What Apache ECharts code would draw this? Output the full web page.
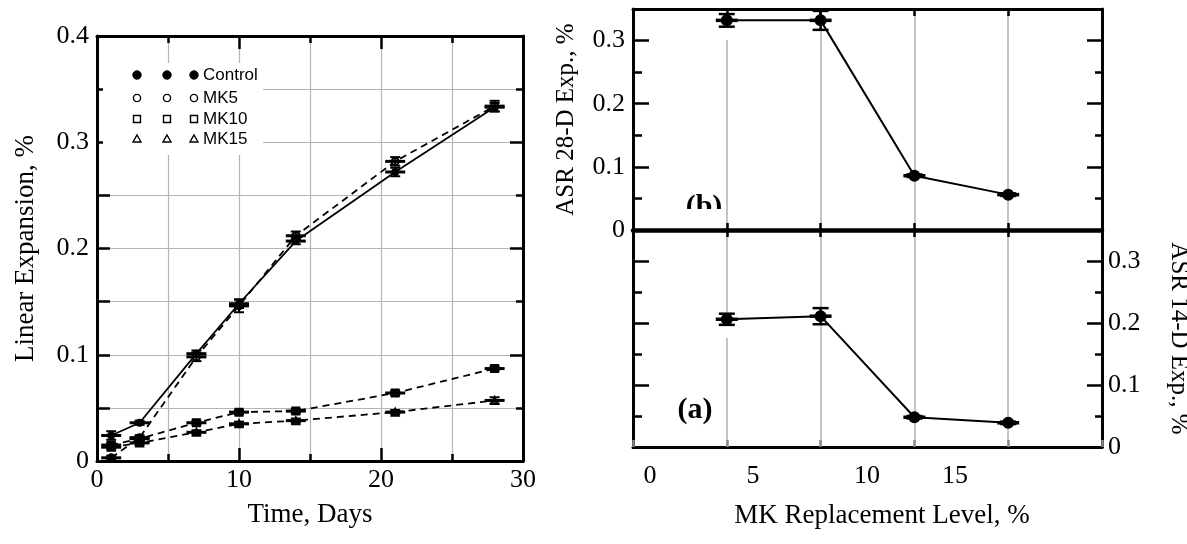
<!DOCTYPE html>
<html>
<head>
<meta charset="utf-8">
<script src="https://cdn.jsdelivr.net/npm/echarts@6/dist/echarts.min.js"></script>
<style>
  html, body { margin: 0; padding: 0; background: #fff; }
  #chart { width: 1187px; height: 544px; }
</style>
</head>
<body>
<div id="chart"></div>
<script>
// Linear expansion of mortar bars vs. time
const days = [1, 3, 7, 10, 14, 21, 28];
const controlExp = [0.024, 0.036, 0.101, 0.148, 0.207, 0.272, 0.333];
const controlErr = [0.004, 0.002, 0.003, 0.004, 0.003, 0.004, 0.004];
const mk5Exp = [0.003, 0.022, 0.098, 0.146, 0.212, 0.282, 0.334];
const mk5Err = [0.002, 0.002, 0.004, 0.006, 0.004, 0.004, 0.005];
const mk10Exp = [0.015, 0.021, 0.036, 0.046, 0.047, 0.064, 0.087];
const mk10Err = [0.002, 0.002, 0.002, 0.002, 0.002, 0.002, 0.002];
const mk15Exp = [0.013, 0.017, 0.027, 0.035, 0.038, 0.046, 0.057];
const mk15Err = [0.002, 0.002, 0.002, 0.002, 0.002, 0.002, 0.003];

// ASR expansion vs. metakaolin replacement level
const mkLevels = [0, 5, 10, 15];
const asr28 = [0.332, 0.332, 0.086, 0.056];
const asr28Err = [0.010, 0.015, 0.002, 0.002];
const asr14 = [0.206, 0.211, 0.048, 0.039];
const asr14Err = [0.009, 0.013, 0.002, 0.002];

// Tick labels and major tick positions
const timeTicks = [0, 10, 20, 30];
const expTicks = [0, 0.1, 0.2, 0.3, 0.4];
const asrTicks = [0, 0.1, 0.2, 0.3];
const asrMajor = [0.1, 0.2, 0.3];
const mkTickLabels = ['0', '5', '10', '15'];

const SERIF = 'Liberation Serif';
const GRAY = '#b5b5b5';

const zip = (xs, ys, es) => xs.map((x, i) => [x, ys[i], es[i]]);

function errorBarRenderer(capHalf, whiskerHalf, width) {
  return function (params, api) {
    const x = api.value(0), y = api.value(1), e = api.value(2);
    const lo = api.coord([x, y - e]);
    const hi = api.coord([x, y + e]);
    const c = api.coord([x, y]);
    const st = { stroke: '#000', lineWidth: width };
    return {
      type: 'group',
      children: [
        { type: 'line', shape: { x1: lo[0], y1: lo[1], x2: hi[0], y2: hi[1] }, style: st },
        { type: 'line', shape: { x1: lo[0] - capHalf, y1: lo[1], x2: lo[0] + capHalf, y2: lo[1] }, style: st },
        { type: 'line', shape: { x1: hi[0] - capHalf, y1: hi[1], x2: hi[0] + capHalf, y2: hi[1] }, style: st },
        { type: 'line', shape: { x1: c[0] - whiskerHalf, y1: c[1], x2: c[0] + whiskerHalf, y2: c[1] }, style: { stroke: '#000', lineWidth: width + 1 } }
      ]
    };
  };
}

const hidden = { show: false };
const axisLineStyle = (w) => ({ show: true, onZero: false, lineStyle: { color: '#000', width: w } });
const ticks = (len, customValues, color) => ({
  show: true, inside: true, length: len, customValues,
  lineStyle: { color: color || '#000', width: 2.5 }
});

// Each framed side gets two overlaid axes: one for the short (minor) ticks
// and one for the long (major) ticks, labels and the frame line.
function axisPair(kind, gridIndex, position, min, max, step, minorLen, majorLen, majorValues, extra, grid) {
  const common = { type: 'value', gridIndex, position, min, max, interval: step };
  const minor = Object.assign({}, common, {
    axisLine: { show: false, onZero: false }, axisLabel: hidden,
    splitLine: grid ? { show: true, lineStyle: { color: GRAY, width: 1.2 } } : hidden,
    axisTick: ticks(minorLen)
  });
  const major = Object.assign({}, common, {
    axisLine: axisLineStyle(3), splitLine: hidden, axisLabel: hidden,
    axisTick: ticks(majorLen, majorValues)
  }, extra || {});
  return [minor, major];
}

const chart = echarts.init(document.getElementById('chart'), null, { renderer: 'canvas' });

const labelFont = { color: '#000', fontFamily: SERIF, fontSize: 26 };
const mkLabelSpots = [-4.09, 1.4, 7.47, 12.16];

const option = {
  animation: false,
  backgroundColor: '#fff',
  grid: [
    { left: 97, top: 36, width: 426, height: 425, outerBoundsMode: 'none', containLabel: false },
    { left: 633, top: 9, width: 469, height: 221, outerBoundsMode: 'none', containLabel: false },
    { left: 633, top: 230, width: 469, height: 217, outerBoundsMode: 'none', containLabel: false }
  ],
  xAxis: [
    // 0,1: time, bottom (grid lines every 5 days)
    ...axisPair('x', 0, 'bottom', 0, 30, 5, 7, 13, [10, 20], {
      axisLabel: Object.assign({ customValues: timeTicks, margin: 6 }, labelFont),
      name: 'Time, Days', nameLocation: 'middle', nameGap: 40,
      nameTextStyle: { color: '#000', fontFamily: SERIF, fontSize: 27 }
    }, true),
    // 2,3: time, top border
    ...axisPair('x', 0, 'top', 0, 30, 5, 7, 13, [10, 20]),
    { // 4: MK level, zero line of the 28-day panel
      type: 'value', gridIndex: 1, position: 'bottom', min: -5, max: 20, interval: 5,
      axisLine: axisLineStyle(4.5), axisLabel: hidden,
      axisTick: ticks(7),
      splitLine: { show: true, lineStyle: { color: GRAY, width: 1.6 } }
    },
    { // 5: MK level, top border of the 28-day panel
      type: 'value', gridIndex: 1, position: 'top', min: -5, max: 20, interval: 5,
      axisLine: axisLineStyle(3), axisLabel: hidden, splitLine: hidden,
      axisTick: ticks(7)
    },
    { // 6: MK level, zero line of the 14-day panel
      type: 'value', gridIndex: 2, position: 'top', min: -5, max: 20, interval: 5,
      axisLine: axisLineStyle(3), axisLabel: hidden, splitLine: hidden,
      axisTick: ticks(7)
    },
    { // 7: MK level, bottom of the 14-day panel
      type: 'value', gridIndex: 2, position: 'bottom', min: -5, max: 20, interval: 5,
      axisLine: axisLineStyle(3), axisLabel: hidden,
      axisTick: ticks(7, null, '#8a8a8a'),
      splitLine: { show: true, lineStyle: { color: GRAY, width: 1.6 } }
    },
    { // 8: MK level tick labels
      type: 'value', gridIndex: 2, position: 'bottom', min: -5, max: 20,
      axisLine: { show: false, onZero: false }, axisTick: hidden, splitLine: hidden,
      axisLabel: Object.assign({
        customValues: mkLabelSpots,
        formatter: (v) => mkTickLabels[mkLabelSpots.indexOf(v)] || '',
        margin: 16
      }, labelFont)
    }
  ],
  yAxis: [
    // 0,1: linear expansion, left
    ...axisPair('y', 0, 'left', 0, 0.4, 0.05, 13, 13, [0.1, 0.2, 0.3], {
      axisLabel: Object.assign({ customValues: expTicks, margin: 8 }, labelFont),
      name: 'Linear Expansion, %', nameLocation: 'middle', nameGap: 58,
      nameTextStyle: { color: '#000', fontFamily: SERIF, fontSize: 27 }
    }, true),
    // 2,3: linear expansion, right border
    ...axisPair('y', 0, 'right', 0, 0.4, 0.05, 7, 13, [0.1, 0.2, 0.3]),
    // 4,5: 28-day panel, left
    ...axisPair('y', 1, 'left', 0, 0.35, 0.05, 9, 16, asrMajor, {
      axisLabel: Object.assign({ customValues: asrTicks, margin: 8 }, labelFont),
      name: 'ASR 28-D Exp., %', nameLocation: 'middle', nameGap: 54,
      nameTextStyle: { color: '#000', fontFamily: SERIF, fontSize: 25 }
    }),
    // 6,7: 28-day panel, right border
    ...axisPair('y', 1, 'right', 0, 0.35, 0.05, 7, 15, asrMajor),
    // 8,9: 14-day panel, left border
    ...axisPair('y', 2, 'left', 0, 0.35, 0.05, 9, 16, asrMajor),
    // 10,11: 14-day panel, right
    ...axisPair('y', 2, 'right', 0, 0.35, 0.05, 7, 15, asrMajor, {
      axisLabel: Object.assign({ customValues: asrTicks, margin: 6 }, labelFont),
      name: 'ASR 14-D Exp., %', nameLocation: 'middle', nameGap: 64, nameRotate: -90,
      nameTextStyle: { color: '#000', fontFamily: SERIF, fontSize: 25 }
    })
  ],
  series: [
    {
      name: 'Control', type: 'line', xAxisIndex: 0, yAxisIndex: 0,
      data: zip(days, controlExp, controlErr),
      symbol: 'circle', symbolSize: 8,
      itemStyle: { color: '#000' },
      lineStyle: { color: '#000', width: 1.8, type: 'solid' }, z: 3
    },
    {
      name: 'MK5', type: 'line', xAxisIndex: 0, yAxisIndex: 0,
      data: zip(days, mk5Exp, mk5Err),
      symbol: 'circle', symbolSize: 7,
      itemStyle: { color: '#fff', borderColor: '#000', borderWidth: 2 },
      lineStyle: { color: '#000', width: 1.8, type: [7, 5] }, z: 3
    },
    {
      name: 'MK10', type: 'line', xAxisIndex: 0, yAxisIndex: 0,
      data: zip(days, mk10Exp, mk10Err),
      symbol: 'rect', symbolSize: 7,
      itemStyle: { color: '#fff', borderColor: '#000', borderWidth: 2 },
      lineStyle: { color: '#000', width: 1.8, type: [7, 5] }, z: 3
    },
    {
      name: 'MK15', type: 'line', xAxisIndex: 0, yAxisIndex: 0,
      data: zip(days, mk15Exp, mk15Err),
      symbol: 'triangle', symbolSize: 7,
      itemStyle: { color: '#fff', borderColor: '#000', borderWidth: 2 },
      lineStyle: { color: '#000', width: 1.8, type: [7, 5] }, z: 3
    },
    ...[
      [controlExp, controlErr], [mk5Exp, mk5Err], [mk10Exp, mk10Err], [mk15Exp, mk15Err]
    ].map(([v, e]) => ({
      type: 'custom', xAxisIndex: 0, yAxisIndex: 0, z: 4,
      renderItem: errorBarRenderer(5, 10, 2),
      encode: { x: 0, y: 1 },
      data: zip(days, v, e)
    })),
    {
      name: 'ASR 28-D', type: 'line', xAxisIndex: 4, yAxisIndex: 5,
      data: zip(mkLevels, asr28, asr28Err),
      symbol: 'circle', symbolSize: 12,
      itemStyle: { color: '#000' },
      lineStyle: { color: '#000', width: 2 }, z: 3
    },
    {
      type: 'custom', xAxisIndex: 4, yAxisIndex: 5, z: 4,
      renderItem: errorBarRenderer(8, 11, 2.5),
      encode: { x: 0, y: 1 },
      data: zip(mkLevels, asr28, asr28Err)
    },
    {
      name: 'ASR 14-D', type: 'line', xAxisIndex: 7, yAxisIndex: 9,
      data: zip(mkLevels, asr14, asr14Err),
      symbol: 'circle', symbolSize: 12,
      itemStyle: { color: '#000' },
      lineStyle: { color: '#000', width: 2 }, z: 3
    },
    {
      type: 'custom', xAxisIndex: 7, yAxisIndex: 9, z: 4,
      renderItem: errorBarRenderer(8, 11, 2.5),
      encode: { x: 0, y: 1 },
      data: zip(mkLevels, asr14, asr14Err)
    }
  ],
  graphic: [
    // key box for the time panel
    { type: 'rect', z: 10, shape: { x: 103, y: 63, width: 160, height: 92 }, style: { fill: '#fff' } },
    ...[137, 167, 194].flatMap((cx) => [
      { type: 'circle', z: 11, shape: { cx, cy: 75, r: 4.2 }, style: { fill: '#000', stroke: '#000', lineWidth: 1 } },
      { type: 'circle', z: 11, shape: { cx, cy: 98, r: 3.6 }, style: { fill: '#fff', stroke: '#000', lineWidth: 1.4 } },
      { type: 'rect', z: 11, shape: { x: cx - 3.5, y: 115.5, width: 7, height: 7 }, style: { fill: '#fff', stroke: '#000', lineWidth: 1.4 } },
      { type: 'polygon', z: 11, shape: { points: [[cx, 135], [cx + 4, 142], [cx - 4, 142]] }, style: { fill: '#fff', stroke: '#000', lineWidth: 1.4 } }
    ]),
    ...['Control', 'MK5', 'MK10', 'MK15'].map((t, i) => ({
      type: 'text', z: 11, x: 203, y: [75, 98, 119, 139][i],
      style: { text: t, fill: '#000', font: '17px "Liberation Sans"', verticalAlign: 'middle', align: 'left' }
    })),
    // breaks in the vertical guide at the first MK level
    { type: 'rect', z: 1, shape: { x: 725, y: 17, width: 6, height: 23 }, style: { fill: '#fff' } },
    { type: 'rect', z: 1, shape: { x: 725, y: 326, width: 6, height: 12 }, style: { fill: '#fff' } },
    // panel tags
    { type: 'text', z: 10, x: 704, y: 192, style: { text: '(b)', fill: '#000', font: 'bold 30px "Liberation Serif"', align: 'center', verticalAlign: 'top' } },
    { type: 'rect', z: 11, shape: { x: 678, y: 209, width: 48, height: 19 }, style: { fill: '#fff' } },
    { type: 'text', z: 10, x: 695, y: 410, style: { text: '(a)', fill: '#000', font: 'bold 30px "Liberation Serif"', align: 'center', verticalAlign: 'middle' } },
    // x-axis title for the MK panels
    { type: 'text', z: 10, x: 882, y: 516, style: { text: 'MK Replacement Level, %', fill: '#000', font: '27px "Liberation Serif"', align: 'center', verticalAlign: 'middle' } }
  ]
};

chart.setOption(option);
</script>
</body>
</html>
